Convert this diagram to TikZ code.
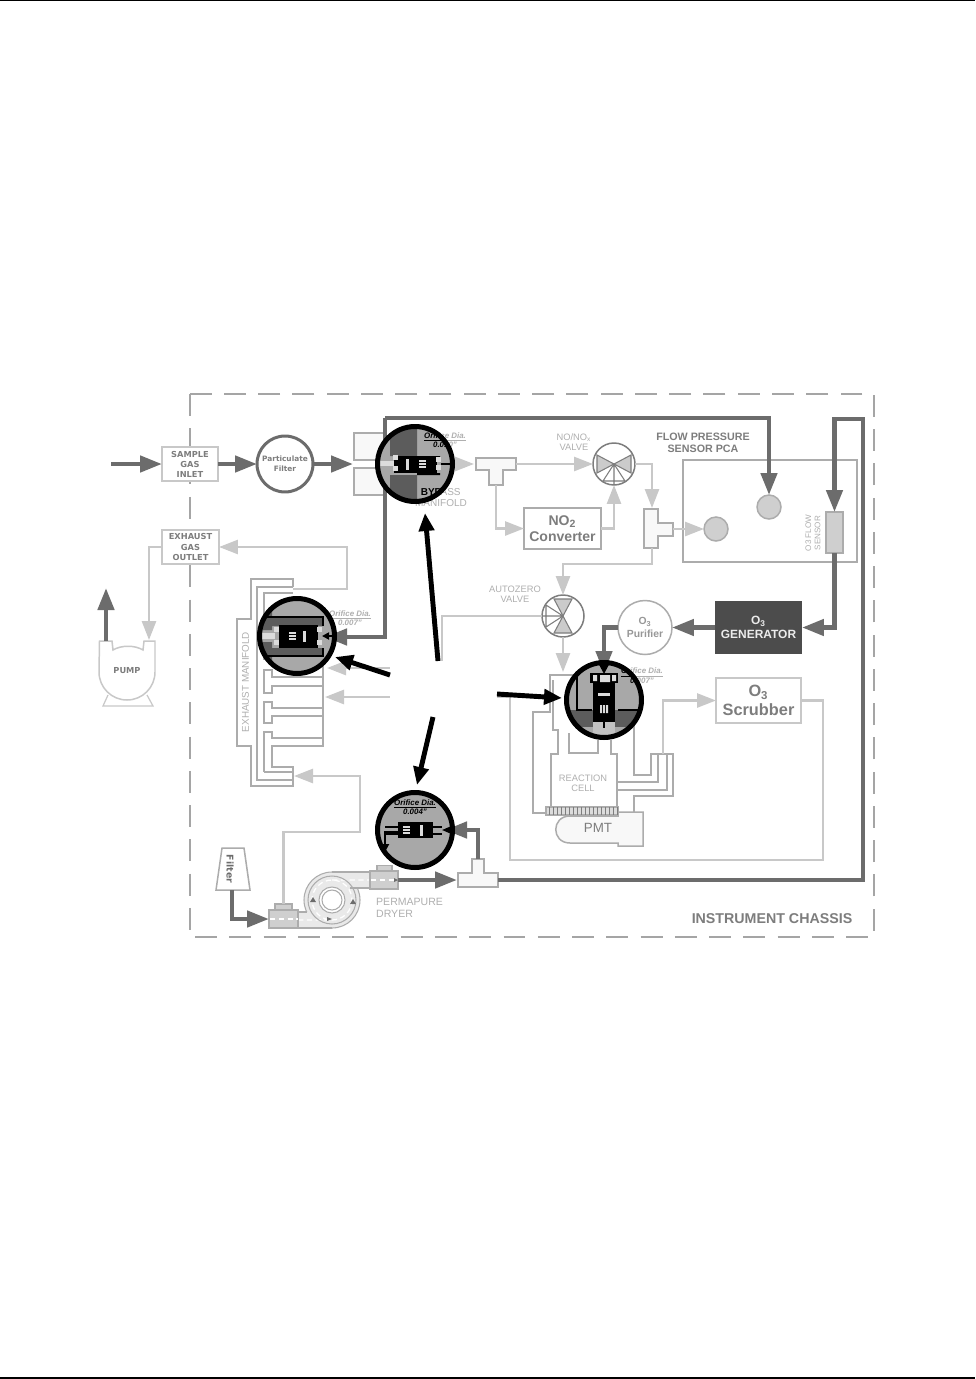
\documentclass[tikz,border=0pt]{standalone}
\usepackage{fontspec}
\setsansfont{Liberation Sans}
\newfontfamily\capfont{DejaVu Sans}
\usetikzlibrary{arrows.meta}
\definecolor{pipedark}{RGB}{108,108,108}
\definecolor{pipelight}{RGB}{200,200,200}
\definecolor{edgegray}{RGB}{172,172,172}
\definecolor{chassisgray}{RGB}{165,165,165}
\definecolor{labelgray}{RGB}{125,125,125}
\definecolor{faintgray}{RGB}{175,175,175}
\definecolor{lensgray}{RGB}{168,168,168}
\definecolor{lensdark}{RGB}{92,92,92}
\definecolor{palefill}{RGB}{248,248,248}
\tikzset{
  darkpipe/.style={draw=pipedark, line width=2.6pt, -{Triangle[length=.44cm,width=.32cm]}},
  lightpipe/.style={draw=pipelight, line width=1.5pt, -{Triangle[length=.38cm,width=.28cm]}},
  callout/.style={draw=black, line width=2.8pt, -{Triangle[length=.36cm,width=.3cm]}},
  outline/.style={draw=edgegray, line width=.85pt},
  lightbox/.style={draw=pipelight, line width=.85pt, fill=white, inner sep=0pt, outer sep=0pt, align=center},
  greybox/.style={draw=edgegray, line width=.85pt, fill=white, inner sep=0pt, outer sep=0pt, align=center, text=labelgray},
  capbold/.style={font=\capfont\bfseries\fontsize{4.7}{5.7}\selectfont, text=labelgray, align=center},
  smalltag/.style={font=\sffamily\fontsize{5.3}{5.9}\selectfont, text=faintgray, align=center},
  orifice/.style={font=\sffamily\bfseries\itshape\fontsize{4.5}{5.4}\selectfont, align=center},
  ring/.style={circle, inner sep=0pt, outer sep=0pt, fill=white},
  lensring/.style={circle, draw=black, line width=2.85pt, minimum size=1.5cm, inner sep=0pt},
}
\newcommand{\valvefan}[3]{%
  \begin{scope}[shift={(#1,#2)},rotate=#3]
    \filldraw[fill=lensgray!60, draw=labelgray, line width=.6pt] (0,0) -- (-17,-9) -- (-17,9) -- cycle;
    \filldraw[fill=lensgray!60, draw=labelgray, line width=.6pt] (0,0) -- (17,-9) -- (17,9) -- cycle;
    \draw[labelgray, line width=.6pt] (0,0) -- (-11,17) -- (11,17) -- cycle (0,0) -- (0,20);
  \end{scope}}
\newcommand{\lensback}[2]{%
  \clip (#1,#2) circle (38);
  \fill[lensgray] (#1-40,#2-40) rectangle (#1+40,#2+40);}
\newcommand{\pinmark}[2]{\fill[lensgray!40] (#1,#2) rectangle (#1+5,#2+5);}
\newcommand{\slotmarks}[2]{%
  \fill[lensgray!40] (#1,#2) rectangle (#1+7,#2+1.5);
  \fill[lensgray!40] (#1,#2+3) rectangle (#1+7,#2+4.5);
  \fill[lensgray!40] (#1,#2+6) rectangle (#1+7,#2+7.5);}
\begin{document}
\begin{tikzpicture}[x=0.02cm, y=-0.02cm, font=\sffamily]
  \useasboundingbox (0,0) rectangle (975,1379);
  \fill[white] (0,0) rectangle (975,1379);
  \draw[black, line width=.8pt] (0,0.6) -- (975,0.6);
  \draw[black, line width=.8pt] (0,1378) -- (975,1378);
  % chassis
  \draw[chassisgray, line width=.85pt, dash pattern=on 12.5pt off 7pt] (190,394) rectangle (874,937);
  \node[font=\sffamily\bfseries\fontsize{8.1}{9}\selectfont, text=labelgray] (chassis) at (772,919) {INSTRUMENT CHASSIS};
  % boxes
  \node[lightbox, minimum width=1.12cm, minimum height=.68cm] (inlet) at (190,464) {};
  \node[capbold] (inlettext) at (190,464) {SAMPLE\\GAS\\INLET};
  \node[lightbox, minimum width=1.14cm, minimum height=.68cm] (outlet) at (190.5,547) {};
  \node[capbold] (outlettext) at (190.5,547) {EXHAUST\\GAS\\OUTLET};
  \node[ring, draw=pipedark, line width=1.7pt, minimum size=1.12cm] (filter) at (285,464) {};
  \node[capbold, font=\capfont\bfseries\fontsize{4.2}{5.7}\selectfont] (filtertext) at (285,464) {Particulate\\Filter};
  \node[greybox, fill=palefill, minimum width=.62cm, minimum height=.54cm] (bypasstop) at (369.5,446.5) {};
  \node[greybox, fill=palefill, minimum width=.62cm, minimum height=.54cm] (bypasslow) at (369.5,481.5) {};
  \coordinate (bypassin) at (353,464);
  \draw[outline] (354,460) -- (385,460) (354,468) -- (385,468);
  \node[greybox, font=\sffamily\bfseries\fontsize{8}{9.4}\selectfont, minimum width=1.54cm, minimum height=.82cm] (converter) at (562.5,528.5) {NO\textsubscript{2}\\Converter};
  \node[draw=edgegray, line width=.85pt, inner sep=0pt, outer sep=0pt, minimum width=3.48cm, minimum height=2.04cm] (sensorpca) at (770,511) {};
  \node[font=\sffamily\bfseries\fontsize{6.1}{7}\selectfont, text=labelgray, align=center] (sensortext) at (703,443) {FLOW PRESSURE\\SENSOR PCA};
  \node[ring, draw=edgegray, fill=lensgray!55, line width=.85pt, minimum size=.48cm] (presscircle) at (769,507) {};
  \node[ring, draw=edgegray, fill=lensgray!55, line width=.85pt, minimum size=.48cm] (flowcircle) at (716,529) {};
  \node[draw=edgegray, fill=lensgray!55, line width=.85pt, inner sep=0pt, outer sep=0pt, minimum width=.34cm, minimum height=.82cm] (flowsensor) at (834.5,532.5) {};
  \node[font=\sffamily\fontsize{4.6}{5.2}\selectfont, text=faintgray, align=center, rotate=90] (flowtext) at (813,533) {O3 FLOW\\SENSOR};
  \node[fill=lensdark!110, inner sep=0pt, outer sep=0pt, minimum width=1.74cm, minimum height=1.06cm, font=\sffamily\bfseries\fontsize{6.8}{8.2}\selectfont, text=white!92!black, align=center] (generator) at (758.5,627.5) {O\textsubscript{3}\\GENERATOR};
  \node[ring, draw=edgegray, line width=.85pt, minimum size=1.08cm, font=\sffamily\bfseries\fontsize{5.9}{7.4}\selectfont, text=labelgray!80, align=center] (purifier) at (645,627.5) {O\textsubscript{3}\\Purifier};
  \node[lightbox, text=labelgray, font=\sffamily\bfseries\fontsize{9.3}{10.6}\selectfont, minimum width=1.7cm, minimum height=.9cm] (scrubber) at (758.5,700.5) {O\textsubscript{3}\\Scrubber};
  % tee pieces
  \filldraw[outline, fill=palefill] (476,458) -- (516,458) -- (516,470) -- (503,470) -- (503,485) -- (489,485) -- (489,470) -- (476,470) -- cycle;
  \coordinate (teeaeast) at (516,464);
  \coordinate (teeawest) at (476,464);
  \coordinate (teeasouth) at (496,485);
  \filldraw[outline, fill=palefill] (644,509) -- (658,509) -- (658,523) -- (673,523) -- (673,536) -- (658,536) -- (658,548) -- (644,548) -- cycle;
  \coordinate (teebnorth) at (652,508);
  \coordinate (teebeast) at (673,529);
  \coordinate (teebsouth) at (652,548);
  \filldraw[outline, fill=palefill] (472,859) -- (484,859) -- (484,873) -- (498,873) -- (498,887) -- (458,887) -- (458,873) -- (472,873) -- cycle;
  \coordinate (teecwest) at (457,880);
  \coordinate (teeceast) at (498,880);
  \coordinate (teecnorth) at (478,859);
  % valves
  \node[ring, draw=labelgray, line width=.85pt, minimum size=.84cm] (noxvalve) at (614,464) {};
  \valvefan{614}{464}{0}
  \node[smalltag] (noxtext) at (574,442) {NO/NO\textsubscript{x}\\VALVE};
  \node[ring, draw=labelgray, line width=.85pt, minimum size=.84cm] (zerovalve) at (563,616) {};
  \valvefan{563}{616}{-90}
  \node[smalltag] (zerotext) at (515,594) {AUTOZERO\\VALVE};
  % exhaust manifold
  \draw[outline] (293,587) -- (293,579) -- (251,579) -- (251,619) -- (237,619) -- (237,746) -- (251,746) -- (251,786) -- (293,786) -- (293,767) -- (272,767) -- (272,746) -- (323,746) -- (323,620);
  \draw[outline] (293,587) -- (257,587) -- (257,780) -- (293,780);
  \draw[outline] (293,593) -- (264,593) -- (264,660) (264,772) -- (293,772);
  \draw[outline] (323,677) -- (272,677) -- (272,670) -- (264,670) -- (264,693) -- (272,693) -- (272,686) -- (323,686);
  \draw[outline] (323,708) -- (272,708) -- (272,702) -- (264,702) -- (264,723) -- (272,723) -- (272,716) -- (323,716);
  \draw[outline] (323,738) -- (272,738) -- (272,732) -- (264,732) -- (264,772);
  \node[font=\sffamily\fontsize{5.6}{6}\selectfont, text=faintgray, rotate=90] (manifoldtext) at (245.5,682) {EXHAUST MANIFOLD};
  % reaction cell
  \draw[outline] (573,675) -- (550,675) -- (550,712) -- (533,712) -- (533,813) -- (546,813);
  \draw[outline] (553,680) -- (553,730) -- (558,730) -- (558,754) -- (551,754) -- (551,807);
  \draw[outline] (569,733) -- (569,753) -- (598,753) -- (598,740);
  \draw[outline] (611,740) -- (611,754) -- (617,754) -- (617,782) -- (658,782) -- (658,754);
  \draw[outline] (617,782) -- (617,807) (617,790) -- (667,790) -- (667,754);
  \draw[outline] (634,683) -- (634,775) -- (651,775) -- (651,754) -- (673,754) -- (673,796) -- (634,796) -- (634,813) -- (618,813);
  \node[smalltag] (celltext) at (583,783.5) {REACTION\\CELL};
  \filldraw[outline, fill=palefill] (570,816) -- (618,816) -- (618,812) -- (643,812) -- (643,846) -- (618,846) -- (618,843) -- (570,843) .. controls (551,843) and (551,816) .. (570,816) -- cycle;
  \node[font=\sffamily\fontsize{7.6}{9}\selectfont, text=labelgray] (pmt) at (598,828) {PMT};
  \filldraw[outline, fill=lensgray!40] (546,807) rectangle (618,815);
  \foreach \hatchx in {549,553,...,617} \draw[labelgray, line width=.5pt] (\hatchx,807) -- (\hatchx,815);
  % pump
  \draw[outline, line width=.7pt, draw=pipelight] (108,695) -- (103,706) -- (153,706) -- (147,695);
  \filldraw[draw=pipelight, line width=.85pt, fill=white] (99.5,641) -- (112,641) -- (113,650) .. controls (121,645) and (135,645) .. (143,650) -- (144,641) -- (155,641) -- (155,672) arc (0:180:28) -- cycle;
  \node[capbold] (pump) at (127,671) {PUMP};
  \coordinate (pumpout) at (106,641);
  \coordinate (pumpin) at (149,640);
  \coordinate (vent) at (106,588);
  % permapure dryer
  \filldraw[outline, line width=.6pt, fill=lensgray!25] (332,900) circle (28);
  \fill[lensgray!25] (298,912) rectangle (332,928) (332,872) rectangle (370,888);
  \draw[outline, line width=.6pt] (298,928) -- (332,928) (298,912) -- (307,912) (332,872) -- (370,872) (350,888) -- (370,888);
  \draw[white, line width=.7pt, densely dashed] (332,900) circle (20) (298,920) -- (332,920) (332,880) -- (370,880);
  \filldraw[outline, line width=.6pt, fill=white] (332,900) circle (13);
  \draw[edgegray, line width=.6pt] (332,900) circle (10) (332,900) circle (24);
  \node[draw=edgegray, line width=.6pt, fill=lensgray!55, inner sep=0pt, outer sep=0pt, minimum width=.58cm, minimum height=.36cm] (dryerleft) at (283.5,919) {};
  \node[draw=edgegray, line width=.6pt, fill=lensgray!55, inner sep=0pt, outer sep=0pt, minimum width=.34cm, minimum height=.12cm] (leftcap) at (283.5,907) {};
  \node[draw=edgegray, line width=.6pt, fill=lensgray!55, inner sep=0pt, outer sep=0pt, minimum width=.56cm, minimum height=.36cm] (dryerright) at (384,880) {};
  \node[draw=edgegray, line width=.6pt, fill=lensgray!55, inner sep=0pt, outer sep=0pt, minimum width=.3cm, minimum height=.1cm] (rightcap) at (384.5,868) {};
  \draw[white, line width=.7pt, densely dashed] (270,919) -- (298,919) (371,880) -- (397,880);
  \fill[pipedark] (313,897) -- (316,902) -- (310,902) -- cycle;
  \fill[pipedark] (353,899) -- (356,904) -- (350,904) -- cycle;
  \fill[pipedark] (327,917) -- (327,921) -- (332,919) -- cycle;
  \fill[pipedark] (394,878) -- (394,882) -- (398,880) -- cycle;
  \node[smalltag, font=\sffamily\fontsize{6}{6.9}\selectfont, align=left, anchor=west] (dryertext) at (370,908) {PERMAPURE\\DRYER};
  \filldraw[draw=edgegray, line width=.85pt, fill=white] (222,848) -- (244,848) -- (250,890) -- (216,890) -- cycle;
  \node[font=\capfont\bfseries\fontsize{5.3}{6}\selectfont, text=pipedark, rotate=-90] (filterbox) at (230,869) {Filter};
  \coordinate (filterout) at (232,890);
  % labels beside the manifolds
  \node[orifice, text=faintgray] (ortagby) at (445,440) {\underline{Orifice Dia.}\\0.010"};
  \node[font=\sffamily\fontsize{5.7}{6.3}\selectfont, text=faintgray, align=center] (bypasstext) at (441,497.5) {BYPASS\\MANIFOLD};
  \node[orifice, text=faintgray] (ortagex) at (350,618) {\underline{Orifice Dia.}\\0.007"};
  \node[orifice, text=faintgray] (ortagre) at (642,675.5) {\underline{Orifice Dia.}\\0.007"};
  % light connectors
  \coordinate (lensbyout) at (450,464);
  \coordinate (conveast) at (614,529);
  \draw[lightpipe] (lensbyout) -- (474,464);
  \draw[lightpipe] (teeaeast) -- (593,464);
  \draw[lightpipe] (teeasouth) |- (converter.west);
  \draw[lightpipe] (converter.east) -| (noxvalve.south);
  \draw[lightpipe] (noxvalve.east) -| (teebnorth);
  \draw[lightpipe] (teebeast) -- (flowcircle.west);
  \draw[lightpipe] (teebsouth) |- (563,564) -- (zerovalve.north);
  \coordinate (cellin) at (563,672);
  \draw[lightpipe] (zerovalve.south) -- (cellin);
  \coordinate (exhportatop) at (327,668);
  \coordinate (zerobend) at (442,668);
  \draw[lightpipe] (zerovalve.west) -| (zerobend) -- (exhportatop);
  \coordinate (exhportb) at (325,697);
  \coordinate (loopse) at (823,860);
  \coordinate (loopsw) at (510,860);
  \coordinate (loopup) at (510,697);
  \draw[lightpipe] (scrubber.east) -| (loopse) -- (loopsw) -- (loopup) -- (exhportb);
  \coordinate (scrubsrc) at (663,754);
  \draw[lightpipe] (scrubsrc) |- (scrubber.west);
  \coordinate (manifoldtop) at (293,589);
  \coordinate (exhaustbend) at (347,547);
  \draw[lightpipe] (manifoldtop) -| (exhaustbend) -- (outlet.east);
  \draw[lightpipe] (outlet.west) -| (pumpin);
  \coordinate (drybend) at (360,832);
  \coordinate (manifoldin) at (294,776);
  \draw[lightpipe] (leftcap.north) |- (drybend) |- (manifoldin);
  % dark connectors
  \coordinate (feedin) at (111,464);
  \draw[darkpipe] (feedin) -- (inlet.west);
  \draw[darkpipe] (inlet.east) -- (filter.west);
  \draw[darkpipe] (filter.east) -- (bypassin);
  \coordinate (topcorner) at (385,418);
  \coordinate (exhaustin) at (325,637);
  \draw[darkpipe] (topcorner) -| (presscircle.north);
  \draw[darkpipe] (topcorner) |- (exhaustin);
  \coordinate (rightcorner) at (863,880);
  \coordinate (righttop) at (863,419);
  \coordinate (turnback) at (834.5,419);
  \draw[darkpipe] (teeceast) -- (rightcorner) -- (righttop) -- (turnback) -- (flowsensor.north);
  \draw[darkpipe] (flowsensor.south) |- (generator.east);
  \draw[darkpipe] (generator.west) -- (purifier.east);
  \coordinate (celldrop) at (604,673);
  \draw[darkpipe] (purifier.west) -| (celldrop);
  \draw[darkpipe] (pumpout) -- (vent);
  \draw[darkpipe] (filterout) |- (dryerleft.west);
  \draw[darkpipe] (dryerright.east) -- (teecwest);
  \coordinate (smallin) at (445,830);
  \draw[darkpipe] (teecnorth) |- (smallin);
  % magnifier, bypass
  \begin{scope}
    \lensback{415}{464}
    \fill[lensdark] (390,425) rectangle (417,456) (390,475) rectangle (417,505);
    \fill[black] (417,456) rectangle (440,458) (417,473) rectangle (440,475);
    \fill[lensgray!40] (375,461) rectangle (394,466);
    \fill[black] (394,456) rectangle (437,473);
    \pinmark{393}{455}\pinmark{393}{466}\pinmark{436}{457}\pinmark{436}{465}
    \slotmarks{419}{460}
    \fill[lensgray!40] (406,459) rectangle (409,470);
    \draw[black, line width=1.1pt] (441,464) -- (453,464);
    \node[orifice, text=black] (ortagbyin) at (445,440) {\underline{Orifice Dia.}\\0.010"};
    \node[font=\sffamily\bfseries\fontsize{5.7}{6.3}\selectfont, text=black, align=center] (bypassinner) at (441,497.5) {BYPASS\\MANIFOLD};
  \end{scope}
  \node[lensring] (lensby) at (415,464) {};
  % magnifier, exhaust
  \begin{scope}
    \lensback{297}{636}
    \fill[lensdark] (272,618) rectangle (323,626) (272,648) rectangle (323,656);
    \fill[lensdark] (262,600) rectangle (272,630) (262,642) rectangle (272,665);
    \draw[black, line width=.9pt] (267,605) -- (267,617) -- (323,617) -- (323,626) (323,648) -- (323,656) -- (267,656) -- (267,670);
    \fill[lensgray!40] (258,633) rectangle (275,639);
    \fill[black] (279,625) rectangle (318,648);
    \pinmark{274}{627}\pinmark{274}{640}\pinmark{317}{627}\pinmark{317}{640}
    \slotmarks{289}{632}
    \fill[lensgray!40] (303,631) rectangle (306,642);
    \draw[black, line width=1.1pt, -{Triangle[length=.14cm,width=.14cm]}] (337,636) -- (322,636);
    \node[orifice, text=black] (ortagexin) at (350,618) {\underline{Orifice Dia.}\\0.007"};
  \end{scope}
  \node[lensring] (lensex) at (297,636) {};
  % magnifier, dryer
  \begin{scope}
    \lensback{415}{830}
    \node[orifice, text=black] (ortagdry) at (415,807) {\underline{Orifice Dia.}\\0.004"};
    \draw[black, line width=.6pt] (385,827) -- (398,827) (385,834) -- (398,834) (433,827) -- (442,827) (433,834) -- (442,834);
    \fill[black] (398,822) rectangle (433,838);
    \slotmarks{403}{826}
    \fill[lensgray!40] (420,825) rectangle (423,836);
    \draw[black, line width=1.1pt, -{Triangle[length=.16cm,width=.16cm]}] (398,832) -- (385,832) -- (385,852);
    \draw[black, line width=1.1pt, -{Triangle[length=.2cm,width=.16cm]}] (455,830) -- (442,830);
  \end{scope}
  \node[lensring] (lensdry) at (415,830) {};
  % magnifier, reaction cell
  \begin{scope}
    \lensback{604}{700}
    \fill[lensdark] (570,710) rectangle (640,727);
    \draw[black, line width=.9pt] (577,670) -- (577,710) -- (592,710) (618,710) -- (640,710);
    \fill[lensgray!70] (593,722) rectangle (615,740);
    \fill[black] (593,680) rectangle (615,722);
    \fill[black] (590,673) rectangle (618,683);
    \fill[lensgray!40] (593,675) rectangle (597,681) (612,675) rectangle (616,681) (600,675) rectangle (610,682);
    \fill[lensgray!40] (598,693) rectangle (610,696);
    \fill[lensgray!40] (600,705) rectangle (602,713) (603,705) rectangle (605,713) (606,705) rectangle (608,713);
    \draw[black, line width=1.1pt] (604,722) -- (604,728);
    \draw[black, line width=1.1pt, -{Triangle[length=.18cm,width=.18cm]}] (604,660) -- (604,674);
    \node[orifice, text=black] (ortagrein) at (642,675.5) {\underline{Orifice Dia.}\\0.007"};
  \end{scope}
  \node[lensring] (lensre) at (604,700) {};
  % blank centre and callouts
  \node[fill=white, inner sep=0pt, outer sep=0pt, minimum width=2.14cm, minimum height=1.12cm] (blank) at (443.5,689) {};
  \coordinate (calltopa) at (438,661);
  \coordinate (calltopb) at (425,513);
  \coordinate (callleft) at (390,675);
  \coordinate (callleftb) at (335,657);
  \coordinate (callright) at (497,694);
  \coordinate (callrightb) at (562,698);
  \coordinate (calllow) at (433,717);
  \coordinate (calllowb) at (417,785);
  \draw[callout] (calltopa) -- (calltopb);
  \draw[callout] (callleft) -- (callleftb);
  \draw[callout] (callright) -- (callrightb);
  \draw[callout] (calllow) -- (calllowb);
\end{tikzpicture}
\end{document}
